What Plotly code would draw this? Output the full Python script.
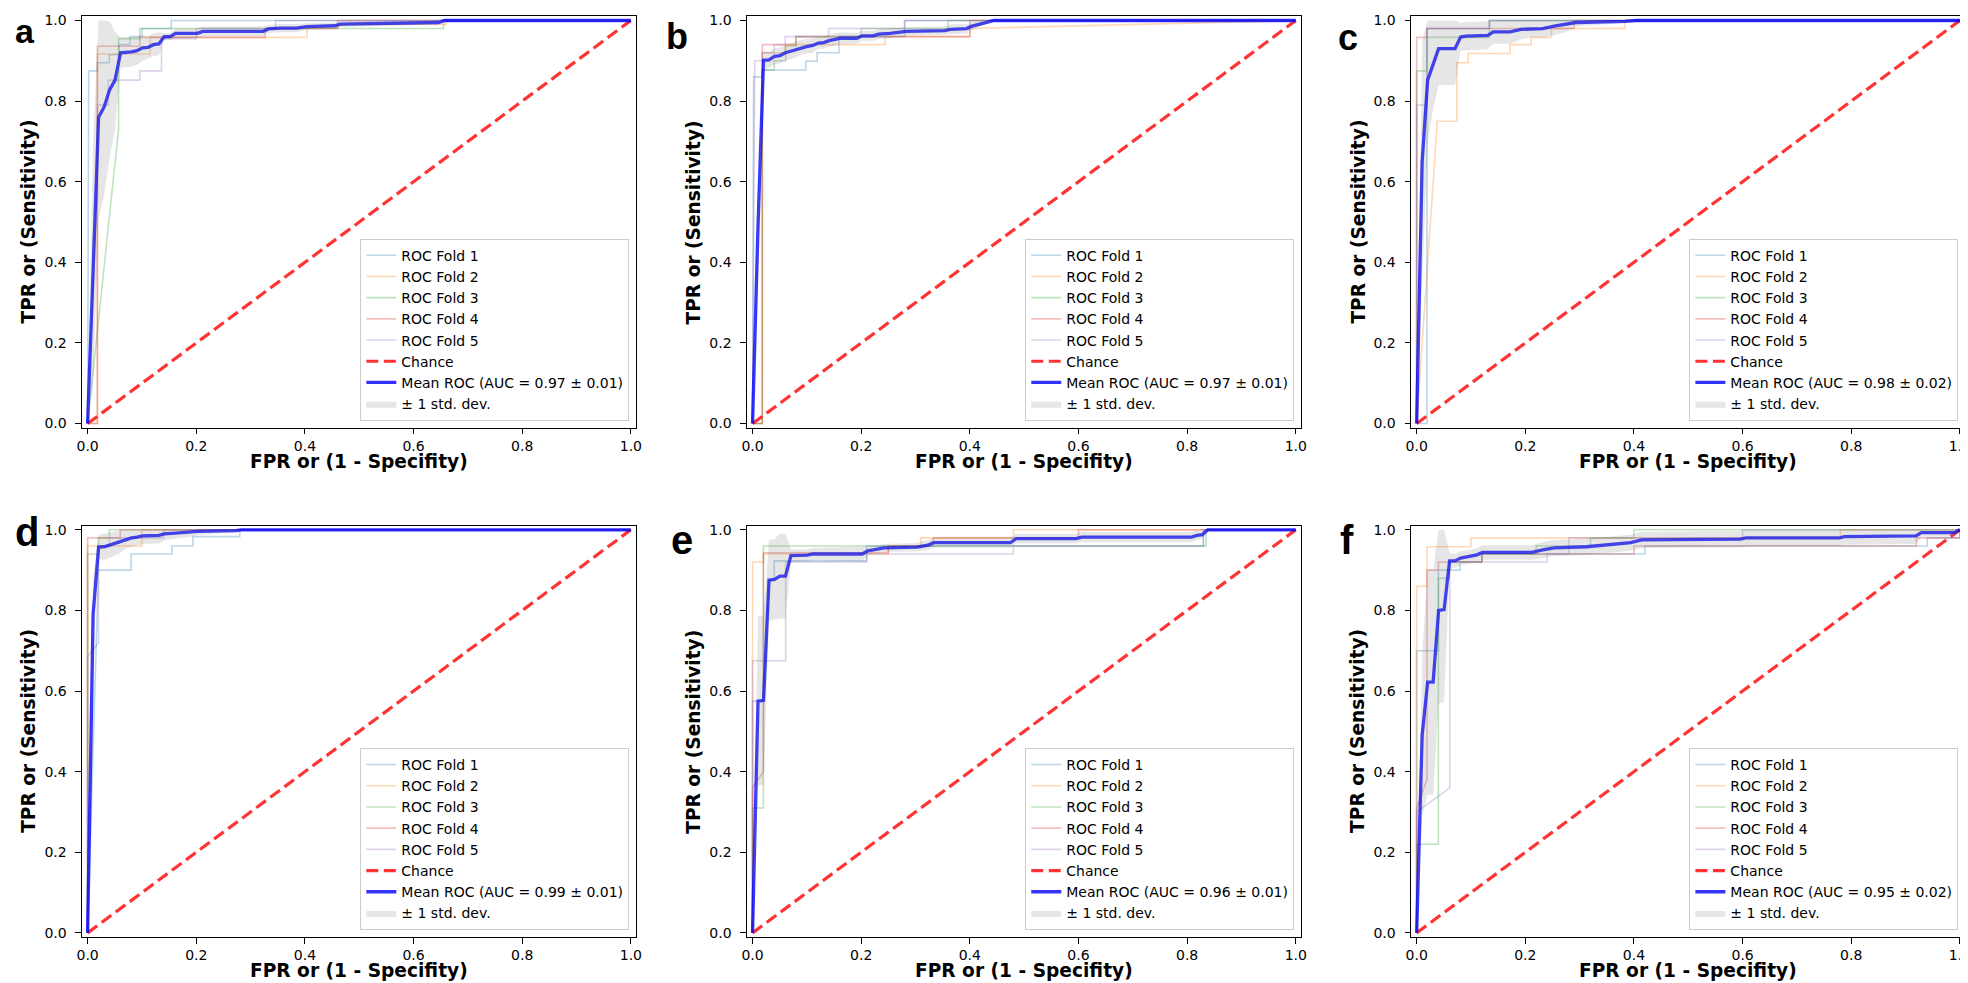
import plotly.graph_objects as go

# ---------------- data ----------------
PANEL_LETTERS = ["a", "b", "c", "d", "e", "f"]
AUC_LABELS = ["0.97 ± 0.01", "0.97 ± 0.01", "0.98 ± 0.02", "0.99 ± 0.01", "0.96 ± 0.01", "0.95 ± 0.02"]
FOLD_NAMES = ["ROC Fold 1", "ROC Fold 2", "ROC Fold 3", "ROC Fold 4", "ROC Fold 5"]
TICK_VALS = [0.0, 0.2, 0.4, 0.6, 0.8, 1.0]
TICK_TEXT = ["0.0", "0.2", "0.4", "0.6", "0.8", "1.0"]
CHANCE_X = [0, 1]
CHANCE_Y = [0, 1]

# ----- panel a -----
A_FPR = [
    [0, 0.002, 0.018, 0.018, 0.04, 0.04, 0.058, 0.058, 0.078, 0.078, 0.10, 0.10, 0.154, 0.154, 1.0],
    [0, 0.018, 0.018, 0.115, 0.115, 0.404, 0.404, 0.46, 0.46, 0.66, 0.66, 1.0],
    [0, 0.057, 0.057, 0.096, 0.096, 0.655, 0.655, 1.0],
    [0, 0.018, 0.018, 0.096, 0.096, 0.327, 0.327, 0.46, 0.46, 1.0],
    [0, 0.018, 0.018, 0.038, 0.038, 0.096, 0.096, 0.136, 0.136, 0.2, 0.2, 0.346, 0.346, 1.0],
]
A_TPR = [
    [0, 0.875, 0.875, 0.895, 0.895, 0.915, 0.915, 0.94, 0.94, 0.96, 0.96, 0.98, 0.98, 1.0, 1.0],
    [0, 0, 0.917, 0.917, 0.958, 0.958, 0.98, 0.98, 0.99, 0.99, 1.0, 1.0],
    [0, 0.73, 0.955, 0.955, 0.98, 0.98, 1.0, 1.0],
    [0, 0, 0.936, 0.936, 0.958, 0.958, 0.98, 0.98, 1.0, 1.0],
    [0, 0.6, 0.79, 0.79, 0.852, 0.852, 0.875, 0.875, 0.955, 0.955, 0.98, 0.98, 1.0, 1.0],
]
A_MEAN_X = [0, 0.0101, 0.0202, 0.0303, 0.0404, 0.0505, 0.0606, 0.0808, 0.0909, 0.101, 0.111, 0.121, 0.131, 0.141,
            0.152, 0.162, 0.202, 0.212, 0.323, 0.333, 0.354, 0.384, 0.404, 0.455, 0.465, 0.646, 0.657, 1.0]
A_MEAN_Y = [0, 0.40, 0.76, 0.785, 0.828, 0.852, 0.920, 0.922, 0.925, 0.932, 0.933, 0.940, 0.942, 0.960,
            0.960, 0.968, 0.968, 0.973, 0.973, 0.979, 0.981, 0.981, 0.985, 0.987, 0.991, 0.995, 1.0, 1.0]
A_STD = [0, 0.30, 0.25, 0.22, 0.17, 0.12, 0.037, 0.037, 0.035, 0.032, 0.028, 0.028, 0.028, 0.009,
         0.009, 0.012, 0.012, 0.012, 0.012, 0.010, 0.010, 0.010, 0.008, 0.008, 0.007, 0.005, 0, 0]

# ----- panel b -----
B_FPR = [
    [0, 0.002, 0.018, 0.018, 0.098, 0.098, 0.119, 0.119, 0.159, 0.159, 0.28, 0.28, 1.0],
    [0, 0.018, 0.018, 0.06, 0.06, 0.244, 0.244, 0.4, 0.4, 1.0],
    [0, 0.018, 0.018, 0.04, 0.04, 0.061, 0.061, 0.08, 0.08, 0.2, 0.2, 0.36, 0.36, 1.0],
    [0, 0.018, 0.018, 0.08, 0.08, 0.4, 0.4, 1.0],
    [0, 0.004, 0.018, 0.018, 0.04, 0.04, 0.06, 0.06, 0.14, 0.14, 0.28, 0.28, 1.0],
]
B_TPR = [
    [0, 0.86, 0.86, 0.877, 0.877, 0.899, 0.899, 0.92, 0.92, 0.96, 0.96, 1.0, 1.0],
    [0, 0, 0.92, 0.92, 0.94, 0.94, 0.96, 0.96, 0.98, 1.0],
    [0, 0, 0.877, 0.877, 0.9, 0.9, 0.936, 0.936, 0.96, 0.96, 0.98, 0.98, 1.0, 1.0],
    [0, 0, 0.94, 0.94, 0.96, 0.96, 1.0, 1.0],
    [0, 0.9, 0.9, 0.92, 0.92, 0.94, 0.94, 0.96, 0.96, 0.98, 0.98, 1.0, 1.0],
]
B_MEAN_X = [0, 0.0101, 0.0202, 0.0303, 0.0404, 0.0505, 0.0606, 0.0707, 0.0808, 0.0909,
            0.101, 0.111, 0.121, 0.131, 0.141, 0.152, 0.162, 0.192, 0.202, 0.222,
            0.232, 0.253, 0.283, 0.354, 0.364, 0.394, 0.404, 0.424, 0.444, 1.0]
B_MEAN_Y = [0, 0.49, 0.901, 0.902, 0.911, 0.913, 0.920, 0.924, 0.929, 0.934,
            0.936, 0.938, 0.944, 0.945, 0.95, 0.953, 0.956, 0.956, 0.962, 0.962,
            0.966, 0.968, 0.973, 0.975, 0.978, 0.98, 0.986, 0.993, 1.0, 1.0]
B_STD = [0, 0.05, 0.022, 0.02, 0.02, 0.02, 0.02, 0.02, 0.018, 0.018,
         0.018, 0.018, 0.015, 0.015, 0.015, 0.015, 0.015, 0.013, 0.012, 0.012,
         0.012, 0.012, 0.01, 0.01, 0.012, 0.012, 0.01, 0.006, 0, 0]

# ----- panel c -----
C_FPR = [
    [0, 0.019, 0.019, 0.134, 0.134, 1.0],
    [0, 0.038, 0.074, 0.074, 0.095, 0.095, 0.172, 0.172, 0.211, 0.211, 0.248, 0.248, 0.383, 0.383, 1.0],
    [0, 0, 0.019, 0.019, 0.134, 0.134, 1.0],
    [0, 0, 0.019, 0.019, 0.29, 0.29, 1.0],
    [0, 0, 0.019, 0.019, 0.134, 0.134, 1.0],
]
C_TPR = [
    [0, 0, 0.98, 0.98, 1.0, 1.0],
    [0, 0.75, 0.75, 0.895, 0.895, 0.918, 0.918, 0.94, 0.94, 0.958, 0.958, 0.98, 0.98, 1.0, 1.0],
    [0, 0.875, 0.875, 0.958, 0.958, 1.0, 1.0],
    [0, 0.958, 0.958, 0.98, 0.98, 1.0, 1.0],
    [0, 0.79, 0.79, 0.98, 0.98, 1.0, 1.0],
]
C_MEAN_X = [0, 0.0101, 0.0202, 0.0303, 0.0404, 0.0707, 0.0808, 0.0909, 0.131, 0.141, 0.172,
            0.192, 0.212, 0.232, 0.253, 0.273, 0.283, 0.293, 0.384, 0.404, 1.0]
C_MEAN_Y = [0, 0.65, 0.852, 0.891, 0.93, 0.93, 0.959, 0.961, 0.963, 0.972, 0.972,
            0.978, 0.98, 0.98, 0.986, 0.99, 0.992, 0.995, 0.998, 1.0, 1.0]
C_STD = [0, 0.30, 0.16, 0.11, 0.09, 0.09, 0.035, 0.035, 0.035, 0.03, 0.03,
         0.025, 0.022, 0.022, 0.022, 0.02, 0.015, 0.01, 0.004, 0, 0]

# ----- panel d -----
D_FPR = [
    [0, 0.02, 0.08, 0.08, 0.155, 0.155, 0.194, 0.194, 0.28, 0.28, 1.0],
    [0, 0, 0.1, 0.1, 1.0],
    [0, 0, 0.02, 0.02, 0.04, 0.04, 1.0],
    [0, 0, 0.06, 0.06, 1.0],
    [0, 0, 0.02, 0.02, 0.04, 0.04, 0.14, 0.14, 1.0],
]
D_TPR = [
    [0, 0.9, 0.9, 0.94, 0.94, 0.96, 0.96, 0.983, 0.983, 1.0, 1.0],
    [0, 0.96, 0.96, 1.0, 1.0],
    [0, 0.94, 0.94, 0.98, 0.98, 1.0, 1.0],
    [0, 0.98, 0.98, 1.0, 1.0],
    [0, 0.685, 0.72, 0.96, 0.96, 0.98, 0.98, 1.0, 1.0],
]
D_MEAN_X = [0, 0.0101, 0.0202, 0.0303, 0.0404, 0.0505, 0.0606, 0.0707, 0.0808, 0.0909,
            0.101, 0.131, 0.141, 0.162, 0.192, 0.202, 0.273, 0.283, 1.0]
D_MEAN_Y = [0, 0.79, 0.957, 0.958, 0.962, 0.967, 0.971, 0.976, 0.98, 0.982,
            0.985, 0.986, 0.99, 0.992, 0.995, 0.996, 0.998, 1.0, 1.0]
D_STD = [0, 0.09, 0.03, 0.032, 0.032, 0.03, 0.028, 0.022, 0.022, 0.02,
         0.02, 0.02, 0.016, 0.014, 0.012, 0.009, 0.004, 0, 0]

# ----- panel e -----
E_FPR = [
    [0, 0, 0.02, 0.03, 0.04, 0.04, 0.21, 0.21, 0.83, 0.83, 1.0],
    [0, 0, 0.02, 0.02, 0.25, 0.25, 0.31, 0.31, 0.48, 0.48, 1.0],
    [0, 0, 0.02, 0.02, 0.835, 0.835, 1.0],
    [0, 0, 0.02, 0.02, 0.25, 0.25, 0.333, 0.333, 0.6, 0.6, 1.0],
    [0, 0, 0.061, 0.061, 0.21, 0.21, 0.48, 0.48, 0.83, 0.83, 1.0],
]
E_TPR = [
    [0, 0.575, 0.575, 0.875, 0.875, 0.923, 0.923, 0.96, 0.96, 1.0, 1.0],
    [0, 0.92, 0.92, 0.94, 0.94, 0.96, 0.96, 0.98, 0.98, 1.0, 1.0],
    [0, 0.31, 0.31, 0.96, 0.96, 1.0, 1.0],
    [0, 0.36, 0.4, 0.943, 0.943, 0.96, 0.96, 0.98, 0.98, 1.0, 1.0],
    [0, 0.675, 0.675, 0.92, 0.92, 0.94, 0.94, 0.96, 0.96, 1.0, 1.0],
]
E_MEAN_X = [0, 0.0101, 0.0202, 0.0303, 0.0404, 0.0505, 0.0606, 0.0707, 0.101, 0.111,
            0.202, 0.212, 0.222, 0.242, 0.303, 0.313, 0.323, 0.333, 0.475, 0.485,
            0.596, 0.606, 0.808, 0.818, 0.828, 0.838, 1.0]
E_MEAN_Y = [0, 0.575, 0.577, 0.875, 0.877, 0.885, 0.885, 0.936, 0.937, 0.94,
            0.94, 0.948, 0.95, 0.955, 0.957, 0.96, 0.962, 0.968, 0.968, 0.978,
            0.978, 0.982, 0.982, 0.986, 0.988, 1.0, 1.0]
E_STD = [0, 0.21, 0.21, 0.10, 0.10, 0.105, 0.105, 0.015, 0.015, 0.015,
         0.018, 0.01, 0.01, 0.01, 0.01, 0.012, 0.012, 0.012, 0.012, 0.012,
         0.012, 0.013, 0.013, 0.012, 0.01, 0, 0]

# ----- panel f -----
F_FPR = [
    [0, 0, 0.04, 0.04, 0.08, 0.08, 0.12, 0.12, 0.42, 0.42, 0.94, 0.94, 1.0, 1.0],
    [0, 0, 0.019, 0.019, 0.1, 0.1, 0.78, 0.78, 1.0],
    [0, 0, 0.04, 0.04, 0.06, 0.06, 0.12, 0.12, 0.22, 0.22, 0.32, 0.32, 0.4, 0.4, 1.0],
    [0, 0, 0.019, 0.019, 0.04, 0.04, 0.12, 0.12, 0.4, 0.4, 0.92, 0.92, 1.0, 1.0],
    [0, 0, 0.061, 0.061, 0.24, 0.24, 0.28, 0.28, 0.6, 0.6, 1.0],
]
F_TPR = [
    [0, 0.7, 0.7, 0.9, 0.9, 0.92, 0.92, 0.94, 0.94, 0.96, 0.96, 0.98, 0.98, 1.0],
    [0, 0.86, 0.86, 0.958, 0.958, 0.98, 0.98, 1.0, 1.0],
    [0, 0.22, 0.22, 0.88, 0.88, 0.92, 0.92, 0.94, 0.94, 0.96, 0.96, 0.98, 0.98, 1.0, 1.0],
    [0, 0.31, 0.38, 0.9, 0.9, 0.92, 0.92, 0.94, 0.94, 0.96, 0.96, 0.98, 0.98, 1.0],
    [0, 0.3, 0.36, 0.92, 0.92, 0.94, 0.94, 0.98, 0.98, 1.0, 1.0],
]
F_MEAN_X = [0, 0.0101, 0.0202, 0.0303, 0.0404, 0.0505, 0.0606, 0.0707, 0.0808, 0.101,
            0.111, 0.121, 0.212, 0.232, 0.253, 0.313, 0.394, 0.414, 0.596, 0.606,
            0.778, 0.788, 0.919, 0.929, 0.99, 1.0]
F_MEAN_Y = [0, 0.49, 0.622, 0.622, 0.8, 0.802, 0.923, 0.923, 0.93, 0.934,
            0.938, 0.944, 0.944, 0.95, 0.955, 0.958, 0.968, 0.975, 0.977, 0.98,
            0.98, 0.983, 0.985, 0.993, 0.993, 1.0]
F_STD = [0, 0.20, 0.28, 0.28, 0.23, 0.23, 0.02, 0.017, 0.017, 0.017,
         0.017, 0.018, 0.018, 0.02, 0.02, 0.02, 0.02, 0.02, 0.02, 0.02,
         0.02, 0.02, 0.02, 0.01, 0.01, 0]

PANELS = [
    (A_FPR, A_TPR, A_MEAN_X, A_MEAN_Y, A_STD),
    (B_FPR, B_TPR, B_MEAN_X, B_MEAN_Y, B_STD),
    (C_FPR, C_TPR, C_MEAN_X, C_MEAN_Y, C_STD),
    (D_FPR, D_TPR, D_MEAN_X, D_MEAN_Y, D_STD),
    (E_FPR, E_TPR, E_MEAN_X, E_MEAN_Y, E_STD),
    (F_FPR, F_TPR, F_MEAN_X, F_MEAN_Y, F_STD),
]

# ---------------- styling / layout ----------------
W, H = 1968, 983
COL_LEFT = [68.6, 737.6, 1405.8]
ROW_TOP = [4.5, 518.0]
PW, PH = 557.5, 414.5

FOLD_COLORS = ["rgba(31,119,180,0.3)", "rgba(255,127,14,0.3)", "rgba(44,160,44,0.3)",
               "rgba(214,39,40,0.3)", "rgba(148,103,189,0.3)"]
MEAN_COLOR = "rgba(0,0,255,0.8)"
CHANCE_COLOR = "rgba(255,0,0,0.8)"
BAND_COLOR = "rgba(128,128,128,0.2)"
FONT = "DejaVu Sans"

fig = go.Figure()
annotations = []
layout = dict(width=W, height=H, margin=dict(l=0, r=0, t=0, b=0),
              paper_bgcolor="white", plot_bgcolor="white",
              font=dict(family=FONT, size=14, color="black"))

for i, (fprs, tprs, mx, my, sd) in enumerate(PANELS):
    r, c = divmod(i, 3)
    sfx = "" if i == 0 else str(i + 1)
    xa, ya, lg = "x" + sfx, "y" + sfx, "legend" + sfx
    left, top = COL_LEFT[c], ROW_TOP[r]

    for k in range(5):
        fig.add_trace(go.Scatter(x=fprs[k], y=tprs[k], mode="lines", name=FOLD_NAMES[k],
                                 line=dict(color=FOLD_COLORS[k], width=1.6),
                                 xaxis=xa, yaxis=ya, legend=lg, hoverinfo="skip"))
    fig.add_trace(go.Scatter(x=CHANCE_X, y=CHANCE_Y, mode="lines", name="Chance",
                             line=dict(color=CHANCE_COLOR, width=3.2, dash="12px,5.5px"),
                             xaxis=xa, yaxis=ya, legend=lg, hoverinfo="skip"))
    fig.add_trace(go.Scatter(x=mx, y=my, mode="lines",
                             name=f"Mean ROC (AUC = {AUC_LABELS[i]})",
                             line=dict(color=MEAN_COLOR, width=3.3),
                             xaxis=xa, yaxis=ya, legend=lg, hoverinfo="skip"))
    lower = [m - s for m, s in zip(my, sd)]
    upper = [min(m + s, 1.0) for m, s in zip(my, sd)]
    fig.add_trace(go.Scatter(x=mx, y=lower, mode="lines", line=dict(width=0, color=BAND_COLOR),
                             showlegend=False, xaxis=xa, yaxis=ya, legend=lg, hoverinfo="skip"))
    fig.add_trace(go.Scatter(x=mx, y=upper, mode="lines", line=dict(width=0, color=BAND_COLOR),
                             fill="tonexty", fillcolor=BAND_COLOR, name="± 1 std. dev.",
                             xaxis=xa, yaxis=ya, legend=lg, hoverinfo="skip"))

    axis_common = dict(range=[-0.01, 1.01], tickvals=TICK_VALS, ticktext=TICK_TEXT,
                       ticks="outside", ticklen=5.5, tickwidth=1.3, tickcolor="black",
                       showline=True, mirror=True, linecolor="black", linewidth=1.4,
                       showgrid=False, zeroline=False,
                       tickfont=dict(family=FONT, size=14, color="black"))
    layout["xaxis" + sfx] = dict(domain=[left / W, (left + PW) / W], anchor=ya, **axis_common)
    layout["yaxis" + sfx] = dict(domain=[1 - (top + PH) / H, 1 - top / H], anchor=xa,
                                 ticklabelstandoff=6, **axis_common)
    layout[lg] = dict(x=(left + PW - 7) / W, y=1 - (top + PH - 7) / H,
                      xanchor="right", yanchor="bottom", xref="paper", yref="paper",
                      traceorder="normal",
                      bgcolor="rgba(255,255,255,0.8)", bordercolor="#cccccc", borderwidth=1,
                      font=dict(family=FONT, size=14, color="black"),
                      itemwidth=30, tracegroupgap=0)

    # axis titles
    annotations.append(dict(text="<b>FPR or (1 - Specifity)</b>", xref="paper", yref="paper",
                            x=(left + PW / 2) / W, y=1 - (top + PH + 34) / H,
                            xanchor="center", yanchor="middle", showarrow=False,
                            font=dict(family=FONT, size=18.6, color="black")))
    annotations.append(dict(text="<b>TPR or (Sensitivity)</b>", xref="paper", yref="paper",
                            x=(left - 54) / W, y=1 - (top + PH / 2) / H, textangle=-90,
                            xanchor="center", yanchor="middle", showarrow=False,
                            font=dict(family=FONT, size=18.6, color="black")))

# panel letters
LETTER_POS = [(0, 19.5, 34), (655, 24.6, 36), (1331, 26.2, 36),
              (0, 524.4, 40), (660, 532.8, 40), (1333, 532.8, 40)]
for letter, (lx, ly, fs) in zip(PANEL_LETTERS, LETTER_POS):
    annotations.append(dict(text=f"<b>{letter}</b>", xref="paper", yref="paper",
                            x=lx / W, y=1 - ly / H, xanchor="left", yanchor="middle",
                            showarrow=False, borderpad=0,
                            font=dict(family="Liberation Sans", size=fs, color="black")))

layout["annotations"] = annotations
fig.update_layout(**layout)
fig.write_html("out.html")
